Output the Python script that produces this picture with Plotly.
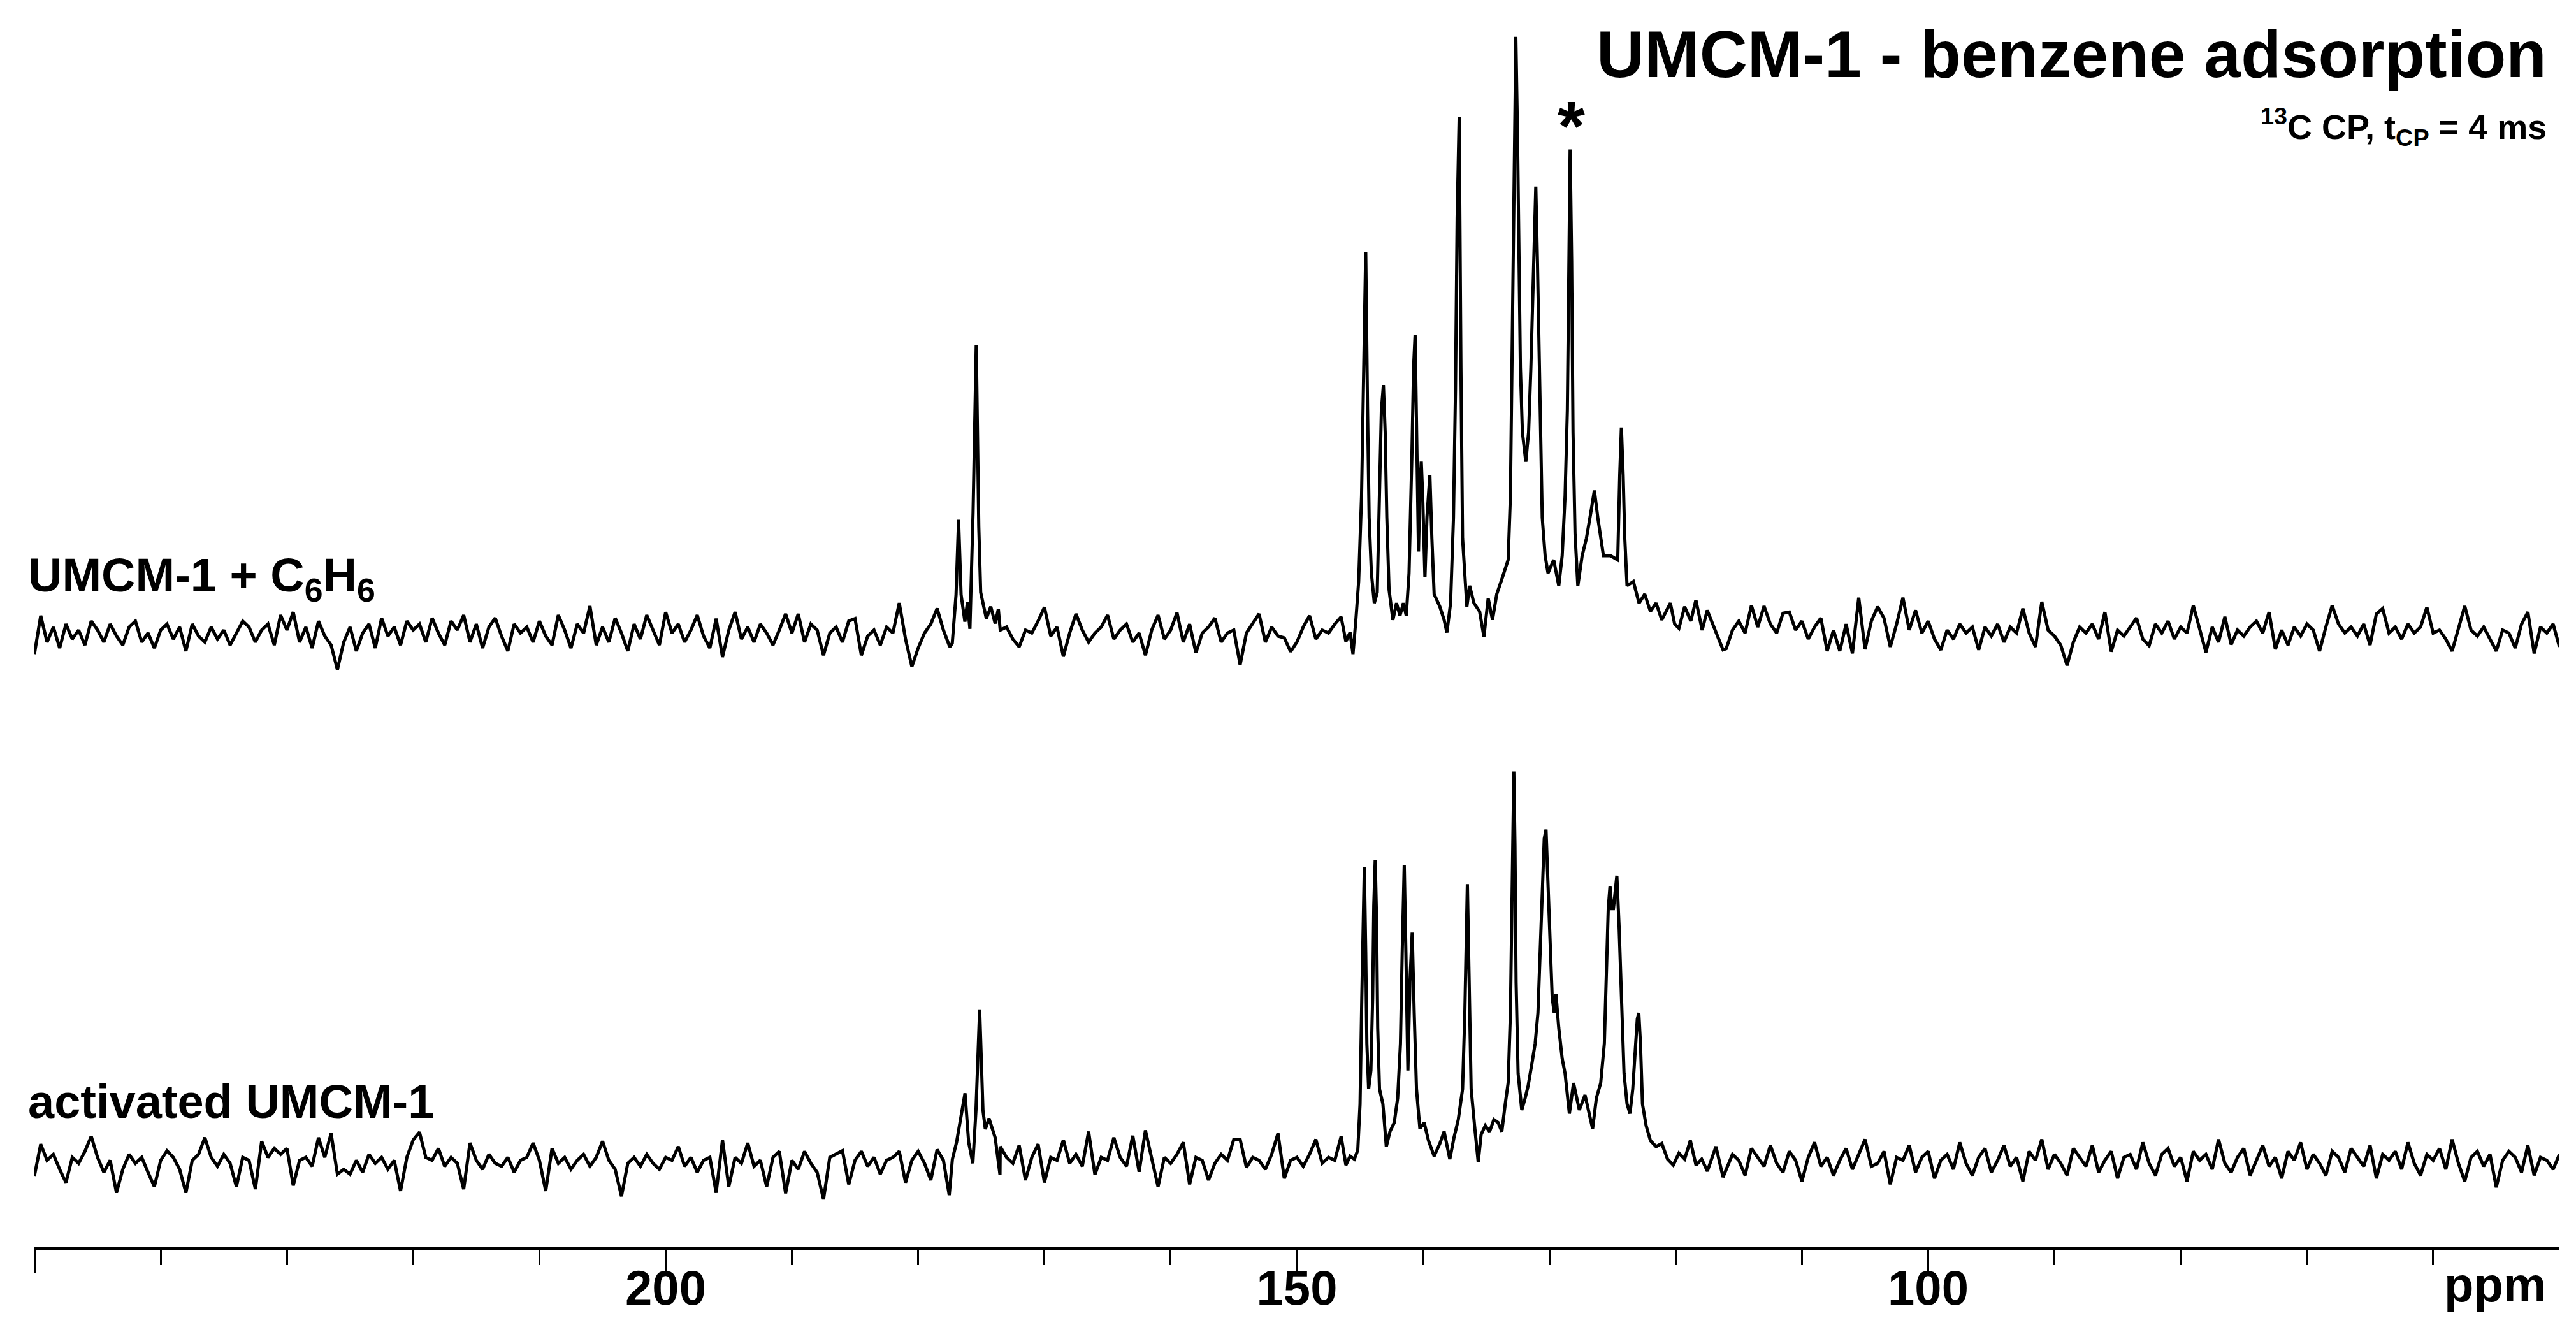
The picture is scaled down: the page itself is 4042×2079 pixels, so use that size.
import plotly.graph_objects as go

# 13C CP MAS NMR of UMCM-1, stacked: activated (bottom) and after benzene loading (top)
# intensities in arbitrary units, tallest peak of the top trace = 100

GRID_STEP = 0.5          # ppm spacing of the baseline samples
LEFT_START = 250.0       # left baseline block: 250 -> 146.5 ppm
RIGHT_START = 116.0      # right baseline block: 116 -> 50 ppm

TOP_LEFT = [
    -3, 3.4, -1, 1.5, -2, 2, -0.5, 1, -1.5, 2.5,        # 250
    1, -1, 2, 0, -1.5, 1.5, 2.5, -1, 0.5, -2,           # 245
    1, 2, -0.5, 1.5, -2.5, 2, 0, -1, 1.5, -0.5,         # 240
    1, -1.5, 0.5, 2.5, 1.5, -1, 1, 2, -1.5, 3.5,        # 235
    1, 4, -1, 1.5, -2, 2.5, 0, -1.5, -5.6, -1,          # 230
    1.5, -2.5, 0.5, 2, -2, 3, 0, 1.5, -1.5, 2.5,        # 225
    1, 2, -1, 3, 0.5, -1.5, 2.5, 1, 3.5, -1,            # 220
    2, -2, 1.5, 3, 0, -2.5, 2, 0.5, 1.5, -1,            # 215
    2.5, 0, -1.5, 3.5, 1, -2, 2, 0.5, 5, -1.5,          # 210
    1.5, -1, 3, 0.5, -2.5, 2, -0.5, 3.5, 1, -1.5,       # 205
    4, 0.5, 2, -1, 1, 3.5, 0, -2, 2.9, -3.5,            # 200
    1, 4, -0.5, 1.5, -1, 2, 0.5, -1.5, 1, 3.7,          # 195
    0.5, 3.7, -1, 2, 1, -3.2, 0.5, 1.5, -1, 2.5,        # 190
    2.9, -3.2, 0, 1, -1.5, 1.5, 0.5, 5.5, -0.5, -5.1,   # 185
    -2, 0.5, 2, 4.6, 1, -1.8, -3, 1, 0, 1,              # 180
    2, 1, 0, 1, 1.5, -0.5, -1.8, 1, 0.5, 2.5,           # 175
    4.8, 0, 1.5, -3.4, 0.5, 3.7, 1, -1, 0.5, 1.5,       # 170
    3.5, -0.5, 1, 2, -1, 0.5, -3.2, 1, 3.5, -0.5,       # 165
    1, 3.9, -1, 2, -2.8, 0.5, 1.5, 3, -1, 0.5,          # 160
    1, -4.8, 0.5, 2, 3.7, -1, 1.5, 0, -0.3, -2.6,       # 155
    -1, 1.5, 3.4, -0.5, 1, 0.5, 2, 3.2,                 # 150
]

TOP_RIGHT = [
    -2.1, 1, 2.5, 0.5, 5.1, 1.5, 5, 2, 0.5, 3.8,        # 116
    4, 1, 2.5, -0.5, 1.5, 3, -2.5, 1, -2.5, 2,          # 111
    -2.9, 6.4, -2.2, 2.5, 4.9, 3, -1.8, 2, 6.4, 1,      # 106
    4.3, 0.5, 2.5, -0.5, -2.3, 1, -0.5, 2, 0.5, 1.5,    # 101
    -2.3, 1.5, 0, 2, -1, 1.5, 0.5, 4.6, 0.5, -1.8,      # 96
    5.7, 1, 0, -1.5, -4.9, -1, 1.5, 0.5, 2, -0.5,       # 91
    4, -2.6, 1, 0, 1.5, 3, -0.5, -1.6, 2, 0.5,          # 86
    2.5, -0.5, 1.5, 0.5, 5.1, 1, -2.7, 1.5, -1, 3.2,    # 81
    -1.4, 1, 0, 1.5, 2.5, 0.5, 4, -2.2, 1, -1.5,        # 76
    1.5, 0, 2, 1, -2.5, 1.5, 5.1, 2, 0.5, 1.5,          # 71
    0, 2, -1.5, 3.7, 4.6, 0.5, 1.5, -0.5, 2, 0.5,       # 66
    1.5, 4.8, 0.5, 1, -0.5, -2.5, 1.5, 5, 1, 0,         # 61
    1.5, -0.5, -2.5, 1, 0.5, -2, 2, 4, -2.9, 1.5,       # 56
    0.5, 2, -1.8,                                       # 51
]

TOP_CO_PPM = [177.3, 177.0, 176.8, 176.6, 176.3, 176.1, 175.9, 175.65, 175.4,
              175.2, 175.05, 174.8, 174.6, 174.25, 173.9, 173.65]
TOP_CO_INT = [-1.2, 6.9, 19.4, 6.9, 2.4, 5.6, 1.2, 20.7, 48.6,
              18.3, 7.3, 4.9, 2.9, 4.9, 2.1, 4.5]

TOP_AR_PPM = [
    146.12, 145.79, 145.56, 145.33, 145.11, 144.88, 144.73, 144.55, 144.41, 144.28,
    144.10, 143.87, 143.64, 143.46, 143.31, 143.15, 143.01, 142.88, 142.70, 142.40,
    142.11, 141.84, 141.57, 141.34, 141.12, 140.89, 140.76, 140.64, 140.51, 140.37,
    140.26, 140.15, 140.04, 139.86, 139.70, 139.47, 139.31, 139.13, 138.68, 138.34,
    138.12, 137.83, 137.60, 137.44, 137.31, 137.15, 137.01, 136.88, 136.54, 136.32,
    135.98, 135.53, 135.19, 134.85, 134.51, 134.17, 133.72, 133.27, 133.09, 132.96,
    132.82, 132.66, 132.53, 132.41, 132.30, 132.14, 131.87, 131.65, 131.47, 131.24,
    131.08, 130.95, 130.79, 130.57, 130.34, 130.11, 129.66, 129.26, 128.99, 128.76,
    128.58, 128.47, 128.36, 128.24, 128.13, 127.97, 127.75, 127.41, 127.07, 126.73,
    126.44, 126.17, 125.72, 125.15, 124.59, 124.43, 124.30, 124.16, 124.03, 123.85,
    123.35, 122.90, 122.45, 122.00, 121.55, 121.10, 120.42, 120.08, 119.74, 119.29,
    118.80, 118.40, 117.90, 117.50, 116.80, 116.25,
]
TOP_AR_INT = [
    -0.9, 0.6, -3.0, 2.7, 9.1, 23.4, 41.2, 64.1, 38.3, 19.8,
    10.5, 5.5, 7.3, 23.4, 37.7, 41.9, 34.0, 19.8, 7.7, 2.7,
    5.5, 3.4, 5.5, 3.4, 10.5, 30.5, 44.8, 50.3, 34.0, 14.1,
    24.8, 29.1, 23.4, 9.8, 19.8, 26.9, 16.3, 7.0, 4.9, 2.7,
    0.6, 5.5, 19.8, 41.2, 69.7, 86.6, 44.8, 16.3, 4.9, 8.4,
    5.5, 4.1, -0.1, 6.3, 2.7, 7.0, 9.8, 12.7, 23.4, 48.3,
    76.8, 100.0, 83.9, 66.1, 44.8, 34.0, 29.1, 34.0, 44.8, 62.6,
    75.0, 62.6, 41.2, 19.8, 13.4, 10.5, 12.7, 8.4, 13.4, 23.4,
    37.7, 62.6, 81.2, 62.6, 34.0, 17.0, 8.4, 13.4, 16.3, 20.5,
    24.3, 19.8, 13.4, 13.4, 12.7, 26.9, 34.8, 26.9, 16.3, 8.4,
    9.1, 5.5, 7.0, 4.1, 5.5, 2.7, 5.5, 2.0, 1.3, 4.9,
    2.5, 6.0, 1.0, 4.3, 0.5, -2.3,
]

BOT_LEFT = [
    -2.1, 3.2, 0.5, 1.5, -1, -3.2, 1, 0, 2, 4.5,        # 250
    1, -1.5, 0.5, -4.9, -1, 1.5, 0, 1, -1.5, -3.9,      # 245
    0.5, 2.1, 1, -1, -4.9, 0.5, 1.5, 4.3, 1, -0.5,      # 240
    1.5, 0, -3.9, 1, 0.5, -4.3, 3.7, 1, 2.5, 1.5,       # 235
    2.5, -3.7, 0.5, 1, -0.5, 4.3, 1, 5, -1.8, -1,       # 230
    -1.8, 0.5, -1.5, 1.5, 0, 1, -1, 0.5, -4.6, 1,       # 225
    3.9, 5.2, 1, 0.5, 2.5, -0.5, 1, 0, -4.3, 3.4,       # 220
    0.5, -1, 1.5, 0, -0.5, 1, -1.5, 0.5, 1, 3.4,        # 215
    0.5, -4.6, 2.5, 0, 1, -1, 0.5, 1.5, -0.5, 1,        # 210
    3.7, 0.5, -1, -5.5, 0, 1, -0.5, 1.5, 0, -1,         # 205
    1, 0.5, 2.8, -0.5, 1, -1.5, 0.5, 1, -4.9, 3.9,      # 200
    -3.9, 1, 0, 3.4, -0.5, 0.5, -3.9, 1, 2, -5,         # 195
    0.5, -1, 2, 0, -1.5, -6, 1, 1.5, 2.1, -3.5,         # 190
    0.5, 2, -0.5, 1, -1.8, 0.5, 1, 2, -3.2, 0.5,        # 185
    2, 0, -2.8, 2.3, 0.5, 3.5, 5, 8, 0, 6,              # 180
    5.7, 4.3, -1.9, 2.8, 1, 0, 3, -2.8, 1, 3.2,         # 175
    -3.2, 1, 0.5, 3.9, 0, 1.5, -0.5, 5.3, -1.9, 1,      # 170
    0.5, 4.3, 1, -0.5, 4.6, -1.4, 5.5, 0.5, -3.9, 1,    # 165
    0, 1.5, 3.5, -3.5, 1, 0.5, -2.8, 0, 1.5, 0.5,       # 160
    4, 4, -0.7, 1, 0.5, -1, 1.5, 5, -2.5, 0.5,          # 155
    1, -0.5, 1.5, 4, 0, 1, 0.5, 4.5,                    # 150
]

BOT_RIGHT = [
    -1, 1.5, 0.5, -2, 2.5, 1, -0.5, 3, 0, -1.5,         # 116
    2, 0.5, -3, 1, 3.5, -0.5, 1, -2, 0.5, 2.5,          # 111
    -1, 1.5, 4, -0.5, 0, 2, -3.5, 1, 0.5, 3,            # 106
    -1.5, 1, 2, -2.5, 0.5, 1.5, -1, 3.5, 0, -2,         # 101
    1, 2.5, -1.5, 0.5, 3, -0.5, 1, -3, 2, 0.5,          # 96
    4, -1, 1.5, 0, -2, 2.5, 1, -0.5, 3, -1.5,           # 91
    0.5, 2, -2.5, 1, 1.5, -1, 3.5, 0, -2, 1.5,          # 86
    2.5, -0.5, 1, -3, 2, 0.5, 1.5, -1, 4, 0,            # 81
    -1.5, 1, 2.5, -2, 0.5, 3, -0.5, 1, -2.5, 2,         # 76
    0.5, 3.5, -1, 1.5, 0, -2, 2, 1, -1.5, 2.5,          # 71
    1, -0.5, 3, -2.5, 1.5, 0.5, 2, -1, 3.5, 0,          # 66
    -2, 1.5, 0.5, 2.5, -1, 4, 0, -3, 1, 2,              # 61
    -0.5, 1.5, -4, 0.5, 2, 1, -1.5, 3, -2, 1,           # 56
    0.5, -1, 1.5,                                       # 51
]

BOT_CO_PPM = [177.54, 177.29, 176.96, 176.74, 176.29, 176.0, 175.67, 175.42,
              175.13, 174.87, 174.68, 174.39, 173.9, 173.52]
BOT_CO_INT = [-5.3, 0.7, 3.5, 6.4, 11.7, 3.5, 0.0, 8.9,
              25.7, 8.9, 5.7, 7.5, 4.3, -1.9]

BOT_AR_PPM = [
    146.12, 145.79, 145.45, 145.18, 145.00, 144.86, 144.75, 144.66, 144.55, 144.46,
    144.32, 144.14, 144.00, 143.91, 143.80, 143.69, 143.60, 143.46, 143.19, 142.92,
    142.63, 142.29, 142.02, 141.80, 141.66, 141.50, 141.37, 141.21, 141.05, 140.87,
    140.71, 140.53, 140.26, 139.92, 139.58, 139.13, 138.68, 138.34, 137.89, 137.56,
    137.22, 136.88, 136.70, 136.59, 136.50, 136.38, 136.20, 135.93, 135.64, 135.41,
    135.08, 134.74, 134.40, 134.06, 133.77, 133.50, 133.27, 133.09, 132.98, 132.89,
    132.82, 132.73, 132.64, 132.48, 132.19, 131.92, 131.69, 131.36, 131.13, 130.91,
    130.72, 130.57, 130.41, 130.27, 130.11, 129.96, 129.78, 129.62, 129.48, 129.26,
    128.99, 128.76, 128.42, 128.09, 127.63, 127.18, 126.85, 126.58, 126.28, 125.94,
    125.65, 125.49, 125.34, 125.20, 125.06, 124.93, 124.79, 124.66, 124.48, 124.30,
    124.09, 123.85, 123.62, 123.40, 123.17, 123.04, 122.92, 122.79, 122.63, 122.34,
    122.00, 121.55, 121.10, 120.64, 120.19, 119.74, 119.29, 118.84, 118.39, 117.94,
    117.49, 116.81, 116.25,
]
BOT_AR_INT = [
    -0.3, 1.2, 0.7, 2.2, 9.9, 27.7, 40.4, 49.4, 35.3, 20.0,
    12.4, 15.5, 27.7, 43.0, 50.6, 40.4, 22.6, 12.4, 9.9, 2.8,
    5.3, 6.8, 10.9, 20.0, 35.3, 49.8, 35.3, 15.5, 30.2, 38.5,
    25.1, 12.4, 5.8, 6.8, 3.8, 1.2, 3.3, 5.3, 0.7, 4.3,
    7.3, 12.4, 25.1, 39.4, 46.6, 32.8, 12.4, 6.3, 0.2, 4.8,
    6.3, 5.3, 7.3, 6.8, 5.3, 9.9, 13.4, 25.1, 40.4, 55.7,
    65.4, 53.1, 30.2, 15.0, 8.9, 10.9, 12.9, 17.0, 20.0, 25.1,
    35.3, 45.5, 54.2, 55.7, 48.0, 37.9, 27.7, 25.1, 28.2, 22.6,
    17.5, 15.0, 8.3, 13.4, 8.9, 11.4, 8.3, 5.8, 10.9, 13.4,
    20.0, 30.2, 42.5, 46.3, 42.5, 42.5, 45.5, 48.0, 39.4, 27.7,
    15.0, 9.9, 8.3, 12.4, 20.0, 24.1, 25.1, 20.0, 9.9, 6.3,
    3.8, 2.8, 3.3, 0.7, -0.3, 1.7, 0.7, 3.8, -0.3, 0.7,
    -1.3, 2.8, -2.3,
]

TOP_OFFSET = 102.0
BOT_OFFSET = 14.0

FONT = "Liberation Sans, Arial, Helvetica, sans-serif"


def grid(start, values):
    return [start - GRID_STEP * i for i in range(len(values))]


def merge(ppm, inten, seg_ppm, seg_int):
    """Replace the baseline samples inside a segment by the segment's points."""
    lo, hi = min(seg_ppm), max(seg_ppm)
    pts = [(p, v) for p, v in zip(ppm, inten) if not (lo <= p <= hi)]
    pts += list(zip(seg_ppm, seg_int))
    pts.sort(key=lambda t: -t[0])
    return [p for p, _ in pts], [v for _, v in pts]


def build(left, right, co_ppm, co_int, ar_ppm, ar_int):
    ppm = grid(LEFT_START, left) + grid(RIGHT_START, right)
    inten = list(left) + list(right)
    ppm, inten = merge(ppm, inten, co_ppm, co_int)
    ppm, inten = merge(ppm, inten, ar_ppm, ar_int)
    return ppm, inten


top_ppm, top_int = build(TOP_LEFT, TOP_RIGHT, TOP_CO_PPM, TOP_CO_INT, TOP_AR_PPM, TOP_AR_INT)
bot_ppm, bot_int = build(BOT_LEFT, BOT_RIGHT, BOT_CO_PPM, BOT_CO_INT, BOT_AR_PPM, BOT_AR_INT)

fig = go.Figure()
for ppm, inten, off in [(top_ppm, top_int, TOP_OFFSET), (bot_ppm, bot_int, BOT_OFFSET)]:
    fig.add_trace(go.Scatter(
        x=ppm, y=[v + off for v in inten],
        mode="lines", line=dict(color="black", width=5),
        hoverinfo="skip", showlegend=False,
    ))

bold = dict(family=FONT, color="black", weight=700)

fig.add_annotation(x=1, xref="paper", y=199.1, yref="y", xanchor="right", yanchor="middle",
                   xshift=-18, text="UMCM-1 - benzene adsorption", showarrow=False,
                   font=dict(**bold, size=104))
fig.add_annotation(x=1, xref="paper", y=187.0, yref="y", xanchor="right", yanchor="middle",
                   xshift=-18, text="<sup>13</sup>C CP, t<sub>CP</sub> = 4 ms", showarrow=False,
                   font=dict(**bold, size=54))
fig.add_annotation(x=128.25, xref="x", y=187.2, yref="y", xanchor="center", yanchor="middle",
                   text="*", showarrow=False, font=dict(**bold, size=110))
fig.add_annotation(x=0, xref="paper", y=111.6, yref="y", xanchor="left", yanchor="middle",
                   xshift=-12, text="UMCM-1 + C<sub>6</sub>H<sub>6</sub>", showarrow=False,
                   font=dict(**bold, size=74))
fig.add_annotation(x=0, xref="paper", y=24.3, yref="y", xanchor="left", yanchor="middle",
                   xshift=-12, text="activated UMCM-1", showarrow=False,
                   font=dict(**bold, size=74))
fig.add_annotation(x=55.1, xref="x", y=-0.03, yref="paper", xanchor="center", yanchor="middle",
                   text="ppm", showarrow=False, font=dict(**bold, size=76))

fig.update_xaxes(
    range=[250, 50], showgrid=False, zeroline=False,
    showline=True, linecolor="black", linewidth=5,
    tickmode="array", tickvals=[250, 200, 150, 100], ticktext=["", "200", "150", "100"],
    ticks="outside", ticklen=36, tickwidth=3, tickcolor="black",
    ticklabelstandoff=-42,
    tickfont=dict(**bold, size=76),
    minor=dict(tickmode="array", tickvals=list(range(240, 55, -10)),
               ticks="outside", ticklen=23, tickwidth=3, tickcolor="black"),
)
fig.update_yaxes(range=[0, 207.3], visible=False)

fig.update_layout(
    width=4042, height=2079,
    margin=dict(l=46, r=34, t=0, b=130),
    paper_bgcolor="white", plot_bgcolor="white",
    showlegend=False,
)

fig.write_html("out.html")
